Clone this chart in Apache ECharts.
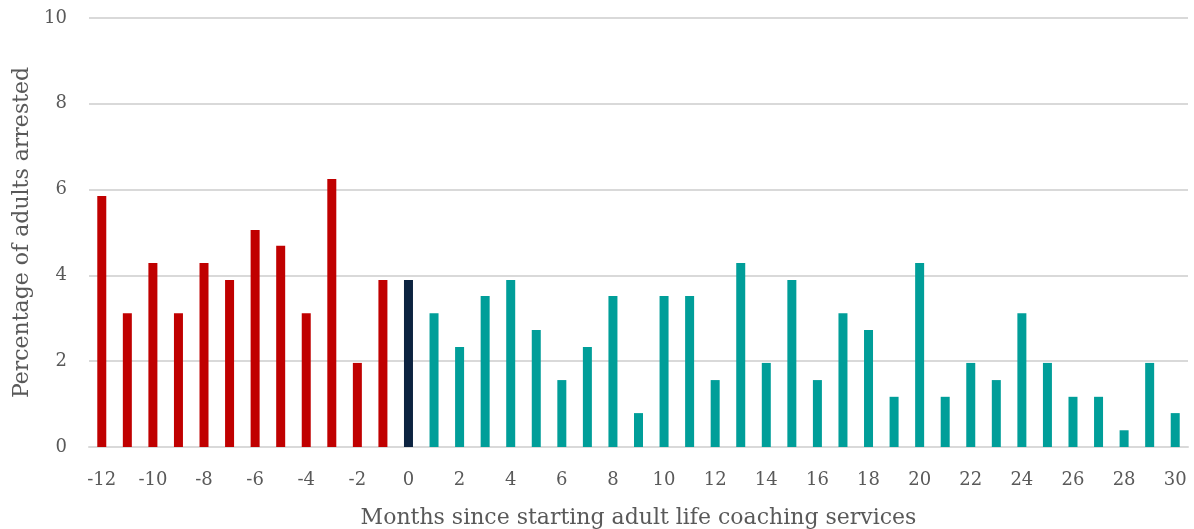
<!DOCTYPE html>
<html>
<head>
<meta charset="utf-8">
<script src="https://cdn.jsdelivr.net/npm/echarts@6/dist/echarts.min.js"></script>
<style>
  html, body { margin: 0; padding: 0; background: #fff; }
  #chart { width: 1194px; height: 529px; }
</style>
</head>
<body>
<div id="chart"></div>
<script>
var months = [];
for (var m = -12; m <= 30; m++) months.push(String(m));

var arrested = [
  5.85, 3.12, 4.29, 3.12, 4.29, 3.89, 5.06, 4.69, 3.12, 6.25, 1.96, 3.89,
  3.89,
  3.12, 2.33, 3.52, 3.89, 2.73, 1.56, 2.33, 3.52, 0.79, 3.52, 3.52, 1.56,
  4.29, 1.96, 3.89, 1.56, 3.12, 2.73, 1.17, 4.29, 1.17, 1.96, 1.56, 3.12,
  1.96, 1.17, 1.17, 0.39, 1.96, 0.79
];

var yTicks = { min: 0, max: 10, interval: 2 };

var RED = '#c00000', NAVY = '#0c2340', TEAL = '#009e99';
var fontFamily = '"DejaVu Serif", "Liberation Serif", serif';

var chart = echarts.init(document.getElementById('chart'));
chart.setOption({
  animation: false,
  grid: {
    left: 89,
    right: 6,
    top: 18,
    bottom: 82,
    containLabel: false,
    outerBoundsMode: 'none'
  },
  xAxis: {
    type: 'category',
    data: months,
    name: 'Months since starting adult life coaching services',
    nameLocation: 'middle',
    nameGap: 60,
    nameTextStyle: {
      color: '#595959',
      fontSize: 22,
      fontFamily: fontFamily
    },
    axisLine: { lineStyle: { color: '#d9d9d9', width: 2 } },
    axisTick: { show: false },
    axisLabel: {
      interval: 1,
      margin: 24,
      color: '#595959',
      fontSize: 18,
      fontFamily: fontFamily
    }
  },
  yAxis: {
    type: 'value',
    min: yTicks.min,
    max: yTicks.max,
    interval: yTicks.interval,
    name: 'Percentage of adults arrested',
    nameLocation: 'middle',
    nameGap: 56,
    nameTextStyle: {
      color: '#595959',
      fontSize: 22,
      fontFamily: fontFamily
    },
    axisLine: { show: false },
    axisTick: { show: false },
    axisLabel: {
      margin: 22,
      color: '#595959',
      fontSize: 18,
      fontFamily: fontFamily
    },
    splitLine: { lineStyle: { color: '#d9d9d9', width: 2 } }
  },
  series: [{
    type: 'bar',
    barWidth: 9,
    data: arrested.map(function (v, i) {
      var mo = Number(months[i]);
      return {
        value: v,
        itemStyle: { color: mo < 0 ? RED : (mo === 0 ? NAVY : TEAL) }
      };
    })
  }]
});
</script>
</body>
</html>
